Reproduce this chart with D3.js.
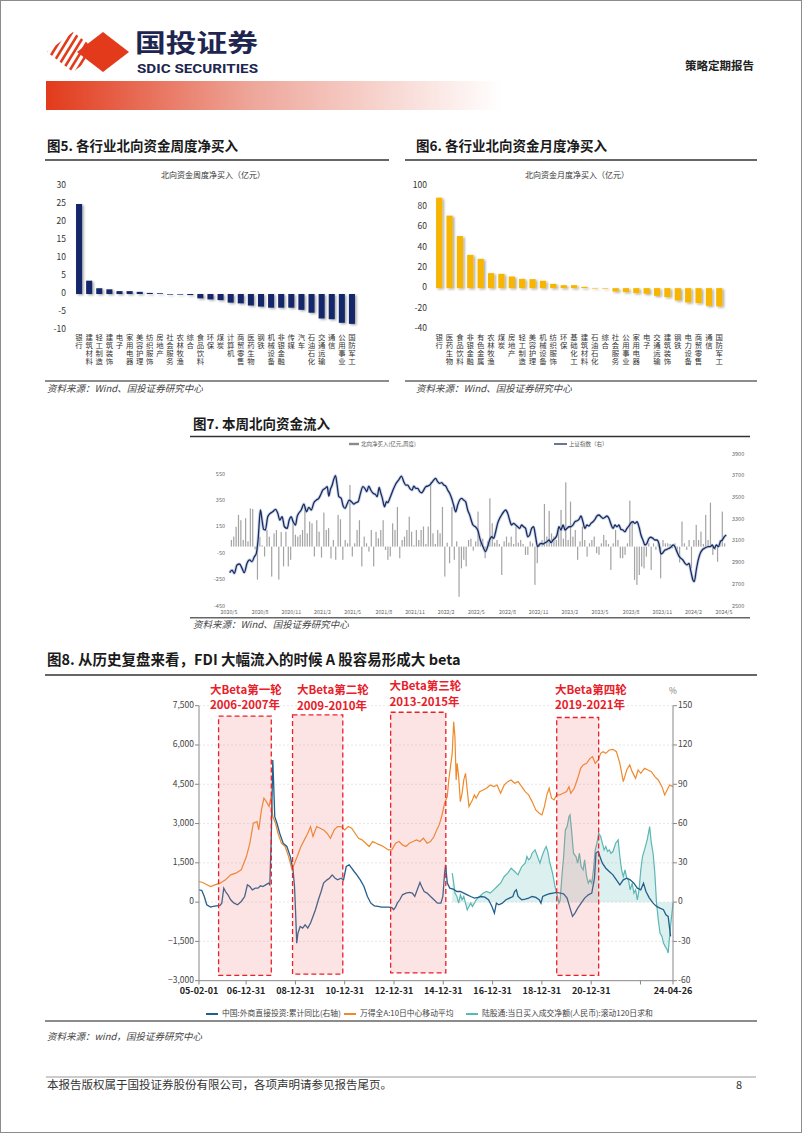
<!DOCTYPE html>
<html><head><meta charset="utf-8">
<script src="https://cdn.jsdelivr.net/npm/d3@7"></script>
<style>
body{margin:0;background:#fff;}
svg{display:block;font-family:"Noto Sans CJK SC","Noto Sans",sans-serif;}
</style></head><body>
<svg id="page" width="802" height="1133"></svg>
<script>
// ---------------- DATA ----------------
const fig5Cats = ["银行","建筑材料","轻工制造","建筑装饰","电子","家用电器","美容护理","纺织服饰","房地产","社会服务","农林牧渔","综合","食品饮料","环保","煤炭","计算机","商贸零售","医药生物","钢铁","机械设备","非银金融","传媒","汽车","石油石化","交通运输","通信","公用事业","国防军工"];
const fig5Vals = [25.0,3.7,1.6,1.3,0.8,0.8,0.6,0.3,0.2,-0.1,-0.1,-0.3,-1.2,-1.5,-1.7,-2.4,-2.6,-3.2,-3.5,-3.8,-3.8,-3.8,-4.4,-5.2,-6.8,-7.0,-8.0,-8.3];
const fig5Ticks = [30,25,20,15,10,5,0,-5,-10];

const fig6Cats = ["银行","医药生物","食品饮料","非银金融","有色金属","农林牧渔","煤炭","房地产","轻工制造","美容护理","机械设备","纺织服饰","环保","基础化工","建筑材料","石油石化","综合","社会服务","公用事业","家用电器","电子","交通运输","建筑装饰","钢铁","电力设备","商贸零售","通信","国防军工"];
const fig6Vals = [88.6,71,51,32.6,28.7,14.7,14,11.4,9.1,8.8,7.2,4.2,2.9,2.9,1.3,0.2,-0.2,-3.3,-3.9,-4.9,-5.5,-7.5,-8.8,-12,-14,-14.7,-17.3,-17.9];
const fig6Ticks = [100,80,60,40,20,0,-20,-40];

// Fig 7: weekly northbound net buy (亿元), first week 2020-05-08
const fig7Start = "2020-05-08";
const fig7Bars = [50,76,150,240,200,50,215,40,290,285,-20,-250,75,10,-75,125,75,-227,100,125,
-250,110,-150,113,-150,-100,200,90,76,90,126,300,100,190,176,-75,200,113,-83,258,
126,140,-90,50,-100,240,207,-100,50,25,467,-75,25,126,200,-150,76,25,-38,126,
-150,113,63,126,200,-25,-100,-75,176,126,300,-88,50,76,126,227,113,10,126,50,
126,152,20,152,490,101,20,126,101,300,-227,30,-126,300,-100,40,-380,-165,-100,-150,
50,60,-30,40,265,30,60,-88,40,366,177,30,50,20,-215,40,76,30,76,20,
152,30,50,20,-63,-63,40,25,-290,-126,30,50,323,76,270,100,76,50,126,278,
60,487,50,341,76,126,-100,40,152,50,-76,25,50,76,-50,-63,25,88,50,20,
-177,25,126,50,-88,-88,-63,25,348,190,-252,-290,-215,-152,-165,-76,25,-177,25,-25,
30,-240,50,25,25,20,-13,25,-40,-120,190,25,-25,50,-165,50,165,50,114,20,
240,50,333,-63,-25,-115,50,265,25];
// 上证指数 [decimal year, value]
const fig7SSE = [[2020.336,2807],[2020.355,2831],[2020.374,2801],[2020.395,2878],[2020.416,2887],[2020.436,2847],[2020.454,2807],[2020.476,2893],[2020.497,2924],[2020.516,2908],[2020.535,2954],[2020.551,2985],[2020.565,3108],[2020.584,3384],[2020.597,3292],[2020.610,3206],[2020.624,3200],[2020.643,3322],[2020.664,3354],[2020.683,3368],[2020.705,3390],[2020.724,3354],[2020.740,3292],[2020.759,3322],[2020.778,3230],[2020.800,3215],[2020.816,3292],[2020.832,3322],[2020.848,3276],[2020.867,3246],[2020.880,3322],[2020.893,3354],[2020.913,3384],[2020.934,3439],[2020.956,3368],[2020.974,3409],[2020.994,3384],[2021.015,3451],[2021.036,3476],[2021.055,3492],[2021.069,3522],[2021.087,3568],[2021.107,3584],[2021.123,3599],[2021.136,3513],[2021.149,3575],[2021.163,3614],[2021.176,3667],[2021.190,3700],[2021.203,3614],[2021.217,3507],[2021.236,3492],[2021.252,3421],[2021.268,3400],[2021.284,3439],[2021.300,3476],[2021.319,3461],[2021.338,3439],[2021.354,3451],[2021.373,3461],[2021.392,3538],[2021.411,3599],[2021.427,3584],[2021.443,3553],[2021.459,3605],[2021.475,3568],[2021.494,3538],[2021.513,3528],[2021.527,3507],[2021.543,3593],[2021.553,3553],[2021.569,3492],[2021.586,3414],[2021.602,3461],[2021.612,3451],[2021.629,3492],[2021.645,3538],[2021.661,3584],[2021.680,3630],[2021.696,3654],[2021.709,3676],[2021.723,3697],[2021.742,3645],[2021.758,3614],[2021.774,3614],[2021.790,3584],[2021.810,3568],[2021.823,3605],[2021.839,3584],[2021.855,3584],[2021.871,3553],[2021.887,3543],[2021.903,3568],[2021.920,3599],[2021.936,3605],[2021.952,3614],[2021.968,3636],[2021.984,3660],[2022.000,3676],[2022.016,3645],[2022.032,3630],[2022.049,3636],[2022.065,3614],[2022.081,3605],[2022.097,3568],[2022.113,3538],[2022.129,3492],[2022.145,3430],[2022.162,3368],[2022.178,3430],[2022.194,3476],[2022.210,3492],[2022.226,3476],[2022.242,3461],[2022.259,3384],[2022.275,3338],[2022.302,3246],[2022.321,3230],[2022.340,3200],[2022.361,3108],[2022.383,3046],[2022.402,3000],[2022.420,3046],[2022.436,3108],[2022.453,3138],[2022.469,3123],[2022.485,3184],[2022.501,3261],[2022.517,3307],[2022.533,3338],[2022.550,3368],[2022.566,3384],[2022.582,3354],[2022.598,3292],[2022.614,3246],[2022.630,3261],[2022.647,3246],[2022.663,3230],[2022.679,3215],[2022.695,3246],[2022.711,3230],[2022.727,3215],[2022.744,3138],[2022.760,3154],[2022.776,3215],[2022.792,3230],[2022.808,3138],[2022.824,3046],[2022.836,3062],[2022.852,3077],[2022.868,3071],[2022.884,3083],[2022.900,3092],[2022.917,3108],[2022.933,3083],[2022.949,3108],[2022.965,3123],[2022.981,3154],[2022.997,3230],[2023.013,3200],[2023.030,3246],[2023.046,3200],[2023.062,3215],[2023.078,3230],[2023.094,3230],[2023.110,3246],[2023.126,3276],[2023.143,3285],[2023.159,3298],[2023.175,3329],[2023.191,3276],[2023.207,3215],[2023.223,3246],[2023.240,3237],[2023.256,3261],[2023.272,3276],[2023.288,3298],[2023.304,3329],[2023.320,3338],[2023.337,3322],[2023.353,3307],[2023.369,3317],[2023.385,3329],[2023.401,3307],[2023.417,3255],[2023.434,3215],[2023.450,3246],[2023.466,3230],[2023.482,3246],[2023.498,3206],[2023.514,3200],[2023.531,3184],[2023.547,3215],[2023.563,3237],[2023.579,3267],[2023.595,3276],[2023.611,3261],[2023.628,3276],[2023.644,3230],[2023.660,3154],[2023.676,3108],[2023.692,3062],[2023.708,3077],[2023.725,3123],[2023.741,3133],[2023.757,3123],[2023.773,3108],[2023.789,3108],[2023.805,3077],[2023.822,2979],[2023.838,2991],[2023.854,3016],[2023.870,3022],[2023.886,3031],[2023.902,3041],[2023.919,3062],[2023.935,3046],[2023.951,3000],[2023.967,2960],[2023.983,2939],[2023.999,2924],[2024.016,2893],[2024.032,2878],[2024.048,2893],[2024.064,2816],[2024.080,2739],[2024.091,2724],[2024.107,2831],[2024.123,2924],[2024.139,2985],[2024.155,3016],[2024.172,3031],[2024.188,3041],[2024.204,3046],[2024.220,3046],[2024.236,3062],[2024.252,3031],[2024.269,3062],[2024.285,3046],[2024.301,3092],[2024.317,3108],[2024.333,3138],[2024.349,3154]];
const fig7LeftTicks = [550,350,150,-50,-250,-450];
const fig7RightTicks = [3900,3700,3500,3300,3100,2900,2700,2500];
const fig7XTicks = ["2020/5","2020/8","2020/11","2021/2","2021/5","2021/8","2021/11","2022/2","2022/5","2022/8","2022/11","2023/2","2023/5","2023/8","2023/11","2024/2","2024/5"];

// Fig 8 series [decimal year, value]
const fdiYoY = [[2005.09,9.4],[2005.20,8.9],[2005.30,4.3],[2005.40,-2.0],[2005.55,-3.8],[2005.66,-3.3],[2005.80,-2.8],[2005.94,-2.5],[2006.01,-0.8],[2006.09,10.7],[2006.16,8.1],[2006.26,5.6],[2006.37,1.8],[2006.51,-0.8],[2006.65,-2.0],[2006.80,0.5],[2006.94,4.3],[2007.05,13.2],[2007.15,11.9],[2007.25,9.4],[2007.37,10.7],[2007.48,10.7],[2007.58,12.5],[2007.68,11.9],[2007.79,13.2],[2007.91,14.5],[2007.96,13.2],[2008.02,50.1],[2008.08,108.5],[2008.11,93.3],[2008.16,65.3],[2008.25,60.2],[2008.36,52.6],[2008.50,45.0],[2008.65,42.5],[2008.79,34.8],[2008.90,24.7],[2008.96,11.9],[2009.00,-5.8],[2009.05,-31.3],[2009.10,-23.6],[2009.19,-18.6],[2009.29,-19.8],[2009.39,-17.3],[2009.50,-19.8],[2009.61,-16.0],[2009.71,-10.9],[2009.81,-5.8],[2009.93,1.8],[2010.04,8.1],[2010.14,14.5],[2010.28,17.0],[2010.38,18.3],[2010.49,20.8],[2010.61,18.3],[2010.71,17.0],[2010.85,18.3],[2010.95,17.0],[2011.06,27.2],[2011.18,28.5],[2011.28,25.9],[2011.38,23.4],[2011.49,20.8],[2011.63,17.0],[2011.78,11.9],[2011.92,4.3],[2012.06,-0.8],[2012.20,-2.8],[2012.35,-3.3],[2012.49,-3.8],[2012.63,-3.8],[2012.77,-3.8],[2012.91,-4.1],[2012.98,-5.8],[2013.06,-3.8],[2013.13,-0.8],[2013.23,1.8],[2013.34,5.6],[2013.48,6.9],[2013.62,7.4],[2013.74,6.9],[2013.84,4.3],[2013.94,9.4],[2014.05,15.0],[2014.12,11.9],[2014.22,8.1],[2014.34,6.9],[2014.48,4.3],[2014.62,1.8],[2014.76,-0.8],[2014.90,-0.8],[2014.98,4.3],[2015.05,22.1],[2015.09,28.5],[2015.16,14.5],[2015.26,10.7],[2015.40,9.9],[2015.55,8.1],[2015.69,8.1],[2015.83,6.9],[2015.97,5.6],[2016.11,4.3],[2016.26,3.1],[2016.40,3.6],[2016.54,4.3],[2016.68,3.8],[2016.83,1.8],[2016.97,-3.3],[2017.07,-8.4],[2017.15,-0.8],[2017.25,-2.0],[2017.39,-0.8],[2017.54,1.8],[2017.68,3.1],[2017.82,4.3],[2017.89,8.1],[2017.96,9.4],[2018.03,4.3],[2018.18,1.8],[2018.32,2.3],[2018.46,3.1],[2018.60,4.3],[2018.75,3.6],[2018.89,1.8],[2018.96,-0.8],[2019.03,4.3],[2019.17,5.6],[2019.31,6.4],[2019.45,6.9],[2019.60,7.4],[2019.74,6.9],[2019.88,6.4],[2020.02,3.1],[2020.14,-4.6],[2020.24,-10.9],[2020.34,-8.4],[2020.45,-4.6],[2020.59,-0.8],[2020.73,3.1],[2020.88,5.6],[2021.02,6.9],[2021.13,18.3],[2021.19,37.4],[2021.28,38.6],[2021.35,34.8],[2021.45,29.7],[2021.59,25.9],[2021.73,23.4],[2021.88,20.8],[2022.02,17.0],[2022.16,13.2],[2022.30,17.0],[2022.44,18.3],[2022.58,17.0],[2022.73,14.5],[2022.87,10.7],[2023.01,9.4],[2023.12,14.5],[2023.22,8.1],[2023.36,3.1],[2023.51,-0.8],[2023.65,-3.3],[2023.79,-4.6],[2023.93,-5.8],[2024.03,-9.7],[2024.12,-10.9],[2024.22,-26.2]];
const windA = [[2005.09,788],[2005.23,750],[2005.37,686],[2005.55,597],[2005.73,661],[2005.94,724],[2006.16,852],[2006.37,1042],[2006.58,1106],[2006.80,1233],[2007.01,1741],[2007.15,2250],[2007.29,3012],[2007.44,3076],[2007.51,2758],[2007.62,3521],[2007.72,3966],[2007.82,3838],[2007.93,3648],[2008.01,4029],[2008.08,3266],[2008.19,3012],[2008.29,2631],[2008.43,2250],[2008.58,2123],[2008.72,1741],[2008.86,1233],[2008.96,1487],[2009.07,1741],[2009.22,2123],[2009.36,2377],[2009.50,2631],[2009.61,2885],[2009.71,2504],[2009.86,2885],[2010.00,2822],[2010.14,2758],[2010.28,2631],[2010.42,2440],[2010.57,2758],[2010.71,2885],[2010.85,2885],[2011.00,2758],[2011.14,2885],[2011.28,2822],[2011.42,2631],[2011.56,2440],[2011.70,2377],[2011.85,2250],[2011.99,2123],[2012.13,2313],[2012.27,2250],[2012.42,2186],[2012.56,2123],[2012.77,1995],[2012.91,1995],[2013.06,2250],[2013.20,2313],[2013.34,2186],[2013.48,2123],[2013.62,2250],[2013.77,2313],[2013.91,2377],[2014.05,2313],[2014.19,2440],[2014.34,2250],[2014.48,2313],[2014.62,2504],[2014.73,2758],[2014.83,2949],[2014.93,3266],[2015.05,3775],[2015.16,4029],[2015.22,4665],[2015.29,5173],[2015.36,5681],[2015.42,6889],[2015.47,6317],[2015.52,4665],[2015.56,5300],[2015.62,4792],[2015.69,3838],[2015.76,4156],[2015.83,4665],[2015.90,4919],[2015.97,4283],[2016.04,3648],[2016.11,3775],[2016.18,3902],[2016.26,4093],[2016.33,3966],[2016.47,4220],[2016.61,4283],[2016.75,4347],[2016.90,4474],[2017.04,4410],[2017.18,4474],[2017.32,4156],[2017.47,4474],[2017.61,4601],[2017.75,4665],[2017.89,4537],[2018.03,4601],[2018.18,4410],[2018.32,4220],[2018.46,4093],[2018.60,3838],[2018.75,3521],[2018.89,3394],[2019.00,3330],[2019.10,3648],[2019.20,4093],[2019.29,4347],[2019.39,3966],[2019.49,3902],[2019.60,4093],[2019.71,4093],[2019.86,4156],[2020.00,4220],[2020.10,4410],[2020.17,4156],[2020.31,4347],[2020.45,4728],[2020.57,5109],[2020.67,5237],[2020.81,5300],[2020.95,5491],[2021.05,5554],[2021.16,5300],[2021.28,5427],[2021.38,5681],[2021.48,5745],[2021.59,5681],[2021.73,5808],[2021.88,5834],[2022.02,5745],[2022.16,5300],[2022.30,4601],[2022.44,5046],[2022.56,5237],[2022.66,4982],[2022.80,4728],[2022.90,5046],[2023.01,4919],[2023.16,5109],[2023.30,5046],[2023.44,4982],[2023.58,4792],[2023.72,4665],[2023.87,4410],[2023.98,4093],[2024.08,4283],[2024.18,4474],[2024.32,4410]];
const hgtNet = [[2015.36,1106],[2015.42,724],[2015.47,343],[2015.55,216],[2015.62,-38],[2015.69,280],[2015.76,89],[2015.83,216],[2015.90,-38],[2015.97,-292],[2016.04,-165],[2016.11,-38],[2016.18,-165],[2016.26,-38],[2016.33,89],[2016.47,216],[2016.61,343],[2016.75,407],[2016.90,343],[2017.04,470],[2017.18,597],[2017.32,724],[2017.47,979],[2017.61,1106],[2017.75,1296],[2017.89,1169],[2018.03,1042],[2018.18,1360],[2018.32,1487],[2018.39,1741],[2018.46,1614],[2018.53,1678],[2018.60,1868],[2018.72,1995],[2018.82,1741],[2018.92,1487],[2019.00,1741],[2019.10,1995],[2019.17,2123],[2019.24,1932],[2019.31,1551],[2019.43,1106],[2019.53,597],[2019.63,216],[2019.69,-38],[2019.74,89],[2019.81,979],[2019.88,1741],[2019.95,2758],[2020.02,2885],[2020.10,3266],[2020.14,3330],[2020.20,2758],[2020.28,1868],[2020.38,1741],[2020.45,1487],[2020.52,1868],[2020.59,1360],[2020.67,1233],[2020.73,1614],[2020.81,979],[2020.88,724],[2020.95,852],[2021.02,724],[2021.09,1233],[2021.16,1995],[2021.23,2250],[2021.30,2631],[2021.38,2504],[2021.45,2250],[2021.52,1995],[2021.59,2123],[2021.66,1932],[2021.73,1995],[2021.80,1868],[2021.88,1932],[2021.99,2250],[2022.09,2377],[2022.16,1741],[2022.23,1233],[2022.30,979],[2022.37,1233],[2022.44,915],[2022.51,852],[2022.58,470],[2022.66,724],[2022.73,343],[2022.80,470],[2022.87,89],[2022.94,470],[2023.01,1233],[2023.08,1741],[2023.16,1995],[2023.27,2377],[2023.37,2885],[2023.44,2250],[2023.51,1868],[2023.58,1106],[2023.65,-38],[2023.72,-674],[2023.79,-1182],[2023.87,-1309],[2023.93,-1563],[2024.00,-1690],[2024.08,-1818],[2024.12,-1945],[2024.18,-1309],[2024.23,-801],[2024.29,-292],[2024.32,-38]];
const fig8LeftTicks = [7500,6000,4500,3000,1500,0,-1500,-3000];
const fig8RightTicks = [150,120,90,60,30,0,-30,-60];
const fig8XTicks = ["2005-02-01","2006-12-31","2008-12-31","2010-12-31","2012-12-31","2014-12-31","2016-12-31","2018-12-31","2020-12-31","2022-12-31","2024-04-26"];
const fig8Rounds = [
  {name:"大Beta第一轮", span:"2006-2007年", from:2005.88, to:2008.02, top:7100, bottom:-2800},
  {name:"大Beta第二轮", span:"2009-2010年", from:2008.88, to:2010.92, top:7150, bottom:-2750},
  {name:"大Beta第三轮", span:"2013-2015年", from:2012.86, to:2015.10, top:7250, bottom:-2700},
  {name:"大Beta第四轮", span:"2019-2021年", from:2019.60, to:2021.30, top:7050, bottom:-2800}
];
const fig8Legend = ["中国:外商直接投资:累计同比(右轴)","万得全A:10日中心移动平均","陆股通:当日买入成交净额(人民币):滚动120日求和"];

// ---------------- HELPERS ----------------
const svg = d3.select("#page");
const defs = svg.append("defs");
function decYear(t){ const y=Math.floor(t); const a=new Date(y,0,1).getTime(), b=new Date(y+1,0,1).getTime(); return new Date(a+(t-y)*(b-a)); }
function txt(g,x,y,s,opt={}){
  const t=g.append("text").attr("x",x).attr("y",y).text(s)
   .attr("font-size",opt.size||10).attr("fill",opt.fill||"#333")
   .attr("text-anchor",opt.anchor||"start").attr("dominant-baseline",opt.base||"middle");
  if(opt.weight) t.attr("font-weight",opt.weight);
  if(opt.style) t.attr("font-style",opt.style);
  if(opt.family) t.attr("font-family",opt.family);
  if(opt.len) t.attr("textLength",opt.len).attr("lengthAdjust","spacingAndGlyphs");
  return t;
}
function hline(x1,x2,y,color,w){ svg.append("line").attr("x1",x1).attr("x2",x2).attr("y1",y).attr("y2",y).attr("stroke",color).attr("stroke-width",w); }

// page border
svg.append("rect").attr("x",0.5).attr("y",0.5).attr("width",801).attr("height",1132).attr("fill","#fff").attr("stroke","#8c8c8c");

// ---------------- HEADER ----------------
const grad = defs.append("linearGradient").attr("id","hdr").attr("x1","0").attr("x2","1");
grad.append("stop").attr("offset","0").attr("stop-color","#e23a1b");
grad.append("stop").attr("offset","0.45").attr("stop-color","#eea69a");
grad.append("stop").attr("offset","1").attr("stop-color","#ffffff");
svg.append("rect").attr("x",46).attr("y",81).attr("width",456).attr("height",29).attr("fill","url(#hdr)");
defs.append("clipPath").attr("id","stripeClip").append("polygon").attr("points","47,52 73,32 99,52 73,72");
const stripes = svg.append("g").attr("clip-path","url(#stripeClip)");
d3.range(8).forEach(k=>{
  stripes.append("line").attr("x1",30+k*7).attr("y1",78).attr("x2",62+k*7).attr("y2",26).attr("stroke","#e23a1b").attr("stroke-width",2.6);
});
svg.append("polygon").attr("points","103,32 129,52 103,72 77,52").attr("fill","#e23a1b");
txt(svg,135,45.5,"国投证券",{size:25,weight:"bold",fill:"#1e2650",len:123});
txt(svg,137,70,"SDIC SECURITIES",{size:12,weight:"bold",fill:"#1e2650",len:121,family:"Liberation Sans Narrow, Roboto, sans-serif"});
txt(svg,754,67,"策略定期报告",{size:11.5,anchor:"end",fill:"#222",weight:"bold"});

// shadow filter
const f = defs.append("filter").attr("id","shadow").attr("x","-50%").attr("y","-20%").attr("width","200%").attr("height","140%");
f.append("feDropShadow").attr("dx",1.6).attr("dy",1.2).attr("stdDeviation",0.9).attr("flood-color","#000").attr("flood-opacity",0.35);

// ---------------- BAR FIGURES (5 & 6) ----------------
function barFigure(o){
  txt(svg,o.titleX,147,o.title,{size:13.5,weight:"bold",fill:"#1a1a1a"});
  hline(o.lineX1,o.lineX2,160,"#333",1.3);
  hline(o.lineX1,o.lineX2,381,"#666",1.6);
  txt(svg,o.titleX,389,"资料来源：Wind、国投证券研究中心",{size:9.5,style:"italic",fill:"#444"});
  const g = svg.append("g");
  txt(g,o.subX,176,o.sub,{size:8,anchor:"middle",fill:"#333"});
  const y = d3.scaleLinear().domain(o.domain).range([o.yBottom,186]);
  const x = d3.scaleBand().domain(o.cats).range(o.xRange).paddingInner(0.4).paddingOuter(0.2);
  o.ticks.forEach(t=>txt(g,o.labelX,y(t),String(t),{size:8.5,anchor:"end",fill:"#333"}));
  g.append("g").attr("filter","url(#shadow)").selectAll("rect").data(o.cats).join("rect")
    .attr("x",d=>x(d)).attr("width",x.bandwidth())
    .attr("y",(d,i)=>y(Math.max(0,o.vals[i])))
    .attr("height",(d,i)=>Math.max(0.6,Math.abs(y(o.vals[i])-y(0))))
    .attr("fill",o.color);
  // vertical category labels: one character per line
  o.cats.forEach(c=>{
    const cx = x(c)+x.bandwidth()/2;
    [...c].forEach((ch,k)=>txt(g,cx,337.5+k*8.1,ch,{size:7.4,anchor:"middle",fill:"#333"}));
  });
}
barFigure({title:"图5. 各行业北向资金周度净买入",titleX:47,lineX1:45,lineX2:389,sub:"北向资金周度净买入（亿元）",subX:213,
  cats:fig5Cats,vals:fig5Vals,ticks:fig5Ticks,domain:[-10,30],yBottom:330,xRange:[74,357],labelX:66,color:"#14286a"});
barFigure({title:"图6. 各行业北向资金月度净买入",titleX:416,lineX1:405,lineX2:757,sub:"北向资金月度净买入（亿元）",subX:577,
  cats:fig6Cats,vals:fig6Vals,ticks:fig6Ticks,domain:[-40,100],yBottom:329,xRange:[434,724.5],labelX:427,color:"#f7b500"});

// ---------------- FIGURE 7 ----------------
(function(){
  txt(svg,193,425,"图7. 本周北向资金流入",{size:13.5,weight:"bold",fill:"#1a1a1a"});
  hline(190,750,436.5,"#333",1.3);
  hline(190,750,617.7,"#666",1.6);
  txt(svg,193,625,"资料来源：Wind、国投证券研究中心",{size:9.5,style:"italic",fill:"#444"});
  const g = svg.append("g");
  const x = d3.scaleTime().domain([new Date(2020,4,1),new Date(2024,4,1)]).range([229,724]);
  const yL = d3.scaleLinear().domain([-450,550]).range([606,474]);
  const yR = d3.scaleLinear().domain([2500,3900]).range([606,454]);
  const start = new Date(fig7Start+"T00:00:00");
  const dateOf = i => d3.timeDay.offset(start, 7*i);
  g.selectAll("rect.b").data(fig7Bars).join("rect").attr("class","b")
    .attr("x",(d,i)=>x(dateOf(i))-0.6).attr("width",1.2)
    .attr("y",d=>yL(Math.max(0,d))).attr("height",d=>Math.abs(yL(d)-yL(0)))
    .attr("fill","#a3a3a3");
  const line = d3.line().x(d=>x(decYear(d[0]))).y(d=>yR(d[1])).curve(d3.curveMonotoneX);
  g.append("path").datum(fig7SSE).attr("d",line).attr("fill","none").attr("stroke","#a9bede").attr("stroke-width",3.2).attr("opacity",0.6);
  g.append("path").datum(fig7SSE).attr("d",line).attr("fill","none").attr("stroke","#1c2a5c").attr("stroke-width",1.3);
  fig7LeftTicks.forEach(t=>txt(g,225,yL(t),String(t),{size:5.5,anchor:"end",fill:"#666"}));
  fig7RightTicks.forEach(t=>txt(g,732,yR(t),String(t),{size:5.5,fill:"#666"}));
  fig7XTicks.forEach(s=>{const [yy,mm]=s.split("/").map(Number); txt(g,x(new Date(yy,mm-1,1)),613,s,{size:5.3,anchor:"middle",fill:"#666"});});
  // legend
  g.append("rect").attr("x",349).attr("y",442.8).attr("width",10).attr("height",2.4).attr("fill","#8a8a8a");
  txt(g,361,444,"北向净买入(亿元,周度)",{size:5.5,fill:"#555"});
  g.append("line").attr("x1",554).attr("x2",567).attr("y1",444).attr("y2",444).attr("stroke","#1c2a5c").attr("stroke-width",1.3);
  txt(g,569,444,"上证指数（右）",{size:5.5,fill:"#555"});
})();

// ---------------- FIGURE 8 ----------------
(function(){
  txt(svg,47,661,"图8. 从历史复盘来看，FDI 大幅流入的时候 A 股容易形成大 beta",{size:14.5,weight:"bold",fill:"#1a1a1a"});
  hline(45,757,675,"#333",1.3);
  hline(45,757,1021,"#666",1.6);
  txt(svg,47,1037,"资料来源：wind，国投证券研究中心",{size:9.5,style:"italic",fill:"#444"});
  const g = svg.append("g");
  const x = d3.scaleTime().domain([new Date(2005,1,1),new Date(2024,3,26)]).range([199,673]);
  const yL = d3.scaleLinear().domain([-3000,7500]).range([980.7,705.7]);
  const yR = d3.scaleLinear().domain([-60,150]).range([980.7,705.7]);
  fig8LeftTicks.forEach(t=>{
    if(t>-3000) g.append("line").attr("x1",199).attr("x2",673).attr("y1",yL(t)).attr("y2",yL(t)).attr("stroke","#e2e2e2").attr("stroke-width",0.8).attr("stroke-dasharray","2,2");
  });
  const px = d=>x(decYear(d[0]));
  g.append("path").datum(hgtNet).attr("d",d3.area().x(px).y0(yL(0)).y1(d=>yL(d[1]))).attr("fill","#5cbcb8").attr("opacity",0.22);
  g.append("path").datum(hgtNet).attr("d",d3.line().x(px).y(d=>yL(d[1]))).attr("fill","none").attr("stroke","#5ab7b3").attr("stroke-width",1.2);
  g.append("path").datum(windA).attr("d",d3.line().x(px).y(d=>yL(d[1]))).attr("fill","none").attr("stroke","#ef8a2a").attr("stroke-width",1.2);
  g.append("path").datum(fdiYoY).attr("d",d3.line().x(px).y(d=>yR(d[1]))).attr("fill","none").attr("stroke","#225f8c").attr("stroke-width",1.3);
  // rounds
  fig8Rounds.forEach(r=>{
    const x1=x(decYear(r.from)), x2=x(decYear(r.to)), y1=yL(r.top), y2=yL(r.bottom);
    g.append("rect").attr("x",x1).attr("y",y1).attr("width",x2-x1).attr("height",y2-y1)
      .attr("fill","rgba(238,120,120,0.2)").attr("stroke","#e8202a").attr("stroke-width",1.3).attr("stroke-dasharray","5,3");
  });
  const lbl = [[210,690.5,706],[297,690.5,706.5],[389.5,687,703],[555,690.5,706]];
  fig8Rounds.forEach((r,i)=>{
    txt(g,lbl[i][0],lbl[i][1],r.name,{size:11.5,weight:"bold",fill:"#e8202a"});
    txt(g,lbl[i][0],lbl[i][2],r.span,{size:11.5,weight:"bold",fill:"#e8202a"});
  });
  // axes
  g.append("line").attr("x1",199).attr("x2",199).attr("y1",705.7).attr("y2",980.7).attr("stroke","#888");
  g.append("line").attr("x1",673).attr("x2",673).attr("y1",705.7).attr("y2",980.7).attr("stroke","#888");
  g.append("line").attr("x1",199).attr("x2",673).attr("y1",980.7).attr("y2",980.7).attr("stroke","#888");
  fig8LeftTicks.forEach(t=>{
    g.append("line").attr("x1",195).attr("x2",199).attr("y1",yL(t)).attr("y2",yL(t)).attr("stroke","#888");
    txt(g,194,yL(t),d3.format(",")(t),{size:8.5,anchor:"end",fill:"#444"});
  });
  fig8RightTicks.forEach(t=>{
    g.append("line").attr("x1",673).attr("x2",677).attr("y1",yR(t)).attr("y2",yR(t)).attr("stroke","#888");
    txt(g,678,yR(t),String(t),{size:8.5,fill:"#444"});
  });
  txt(g,673,692,"%",{size:8.5,anchor:"middle",fill:"#777"});
  const parse = d3.timeParse("%Y-%m-%d"), fmt = d3.timeFormat("%y-%m-%d");
  fig8XTicks.forEach(s=>{
    const d=parse(s), xx=x(d);
    g.append("line").attr("x1",xx).attr("x2",xx).attr("y1",980.7).attr("y2",984.5).attr("stroke","#888");
    if(s!=="2022-12-31") txt(g,xx,991.5,fmt(d),{size:9,weight:"bold",anchor:"middle",fill:"#222"});
  });
  // legend
  const colors=["#225f8c","#ef8a2a","#5ab7b3"], lx=[206,344,466];
  fig8Legend.forEach((s,i)=>{
    g.append("line").attr("x1",lx[i]).attr("x2",lx[i]+12).attr("y1",1014).attr("y2",1014).attr("stroke",colors[i]).attr("stroke-width",2);
    txt(g,lx[i]+16,1014,s,{size:7.8,fill:"#444"});
  });
})();

// ---------------- FOOTER ----------------
hline(46,756,1077,"#999",1.2);
txt(svg,47,1086,"本报告版权属于国投证券股份有限公司，各项声明请参见报告尾页。",{size:11.5,fill:"#333"});
txt(svg,739,1086,"8",{size:11,anchor:"middle",fill:"#333"});
</script></body></html>
